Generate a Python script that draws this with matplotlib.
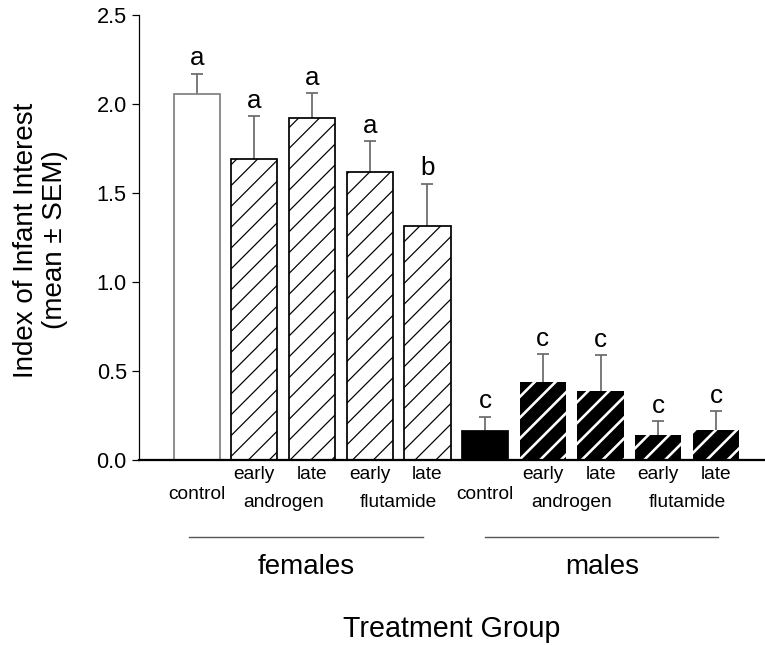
import numpy as np
import matplotlib
matplotlib.use("Agg")
import matplotlib.pyplot as plt

plt.rcParams['font.family'] = ['Liberation Sans', 'DejaVu Sans']

# --- data ---
treatments = ['control', 'early', 'late', 'early', 'late',
              'control', 'early', 'late', 'early', 'late']
pair_labels = ['androgen', 'flutamide', 'androgen', 'flutamide']
groups = ['females', 'males']
means = [2.057, 1.69, 1.92, 1.616, 1.314, 0.159, 0.435, 0.388, 0.135, 0.167]
sem = [0.113, 0.24, 0.14, 0.174, 0.236, 0.081, 0.158, 0.199, 0.079, 0.103]
letters = ['a', 'a', 'a', 'a', 'b', 'c', 'c', 'c', 'c', 'c']

x = np.arange(len(means))
means = np.array(means)
sem = np.array(sem)
w = 0.8

fig = plt.figure(figsize=(6.12, 5.16), dpi=125)
ax = fig.add_axes([139 / 765, 1 - 459.5 / 645, 1 - 139 / 765, (459.5 - 15) / 645])

# error bars (upper only) drawn behind the bars
eb = ax.errorbar(x, means, yerr=[np.zeros(len(means)), sem], fmt='none',
                 ecolor='#6a6a6a', elinewidth=1.0, capsize=3.7, capthick=1.0, zorder=1)
eb[1][0].set_visible(False)

# females
ax.bar(x[0], means[0], w, color='white', edgecolor='#808080', linewidth=1.0, zorder=2)
with plt.rc_context({'hatch.linewidth': 0.7}):
    ax.bar(x[1:5], means[1:5], w, color='white', edgecolor='black', hatch='//',
           linewidth=1.0, zorder=2)
# males
ax.bar(x[5], means[5], w, color='black', edgecolor='black', linewidth=1.0, zorder=2)
with plt.rc_context({'hatch.linewidth': 1.5}):
    ax.bar(x[6:], means[6:], w, color='black', edgecolor='white', hatch='//',
           linewidth=0, zorder=2)

# significance letters
for xi, top, lt in zip(x, means + sem, letters):
    ax.annotate(lt, (xi, top), xytext=(0, 2), textcoords='offset points',
                ha='center', va='bottom', fontsize=15)

ax.set_xlim(-1.0, 9.85)
ax.set_ylim(0, 2.5)
ax.set_yticks(np.arange(0, 2.51, 0.5))
ax.set_yticklabels(['%.1f' % v for v in np.arange(0, 2.51, 0.5)])
ax.set_xticks([])
ax.tick_params(axis='y', direction='out', length=4, width=0.7, labelsize=12.5, pad=3)
ax.spines['top'].set_visible(False)
ax.spines['right'].set_visible(False)
ax.spines['left'].set_linewidth(0.7)
ax.spines['bottom'].set_linewidth(1.3)

# category labels below the axis
tr = ax.get_xaxis_transform()
for xi, lab in zip(x, treatments):
    if lab == 'control':
        ax.text(xi, -0.078, lab, transform=tr, ha='center', va='center', fontsize=11)
    else:
        ax.text(xi, -0.034, lab, transform=tr, ha='center', va='center', fontsize=11)
for xc, lab in zip([1.5, 3.5, 6.5, 8.5], pair_labels):
    ax.text(xc, -0.097, lab, transform=tr, ha='center', va='center', fontsize=11)

# group lines and names
for (x0, x1), g in zip([(-0.13, 3.93), (5.0, 9.04)], groups):
    ax.plot([x0, x1], [-0.175, -0.175], transform=tr, color='#555555',
            linewidth=0.8, clip_on=False)
    ax.text((x0 + x1) / 2, -0.241, g, transform=tr, ha='center', va='center', fontsize=16)

ax.text(0.5, -0.381, 'Treatment Group', transform=ax.transAxes,
        ha='center', va='center', fontsize=16.5)
fig.text(41 / 765, 1 - 240 / 645, 'Index of Infant Interest\n(mean \u00b1 SEM)',
         rotation=90, ha='center', va='center', multialignment='center',
         fontsize=16, linespacing=1.15)

fig.savefig('out.png', dpi=125)
